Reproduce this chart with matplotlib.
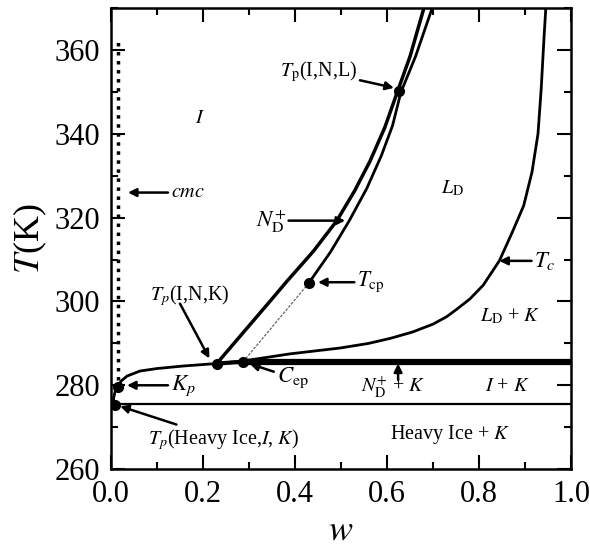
import numpy as np
import matplotlib
matplotlib.use('Agg')
import matplotlib.pyplot as plt

plt.rcParams['font.family'] = ['Liberation Serif', 'DejaVu Serif']
plt.rcParams['mathtext.fontset'] = 'stix'

# curves: w (mass fraction), T (K)
kp_w = [0.005, 0.006, 0.009, 0.015, 0.022, 0.035, 0.063, 0.10, 0.157, 0.23]
kp_T = [275.0, 277.0, 278.5, 279.5, 281.0, 282.2, 283.4, 284.0, 284.6, 285.2]

ni_w = [0.23, 0.346, 0.383, 0.440, 0.491, 0.530, 0.563, 0.595, 0.622, 0.650, 0.680]
ni_T = [285.2, 300.1, 304.9, 312.0, 319.3, 326.5, 333.5, 341.5, 349.9, 358.5, 370.0]

nl_dot_w = [0.287, 0.430]
nl_dot_T = [285.6, 304.4]
nl_w = [0.430, 0.477, 0.518, 0.556, 0.588, 0.612, 0.630, 0.662, 0.698]
nl_T = [304.4, 311.8, 319.3, 327.0, 334.9, 342.0, 349.9, 358.5, 370.0]

tc_w = [0.23, 0.287, 0.389, 0.498, 0.560, 0.607, 0.655, 0.70, 0.730, 0.752, 0.780,
        0.809, 0.844, 0.872, 0.897, 0.915, 0.928, 0.935, 0.941, 0.945]
tc_T = [285.2, 285.8, 287.5, 288.9, 290.0, 291.2, 292.7, 294.6, 296.4, 298.2, 300.6,
        303.9, 309.7, 316.5, 322.9, 330.9, 340.0, 350.8, 362.8, 370.0]

cmc_w = 0.015
cmc_T = [279.0, 362.0]
T_ice = 275.5
T_eut = 285.6
w_cep = 0.287

pts_w = [0.009, 0.015, 0.23, 0.287, 0.430, 0.626]
pts_T = [275.2, 279.5, 285.2, 285.6, 304.4, 350.2]

fig = plt.figure(figsize=(5.9, 5.48), dpi=100)
ax = fig.add_axes([0.188, 0.144, 0.780, 0.841])

ax.plot(kp_w, kp_T, 'k-', lw=2)
ax.plot(ni_w, ni_T, 'k-', lw=2.5)
ax.plot(nl_dot_w, nl_dot_T, color='0.45', lw=1, ls=(0, (2, 1)))
ax.plot(nl_w, nl_T, 'k-', lw=2)
ax.plot(tc_w, tc_T, 'k-', lw=2)
ax.plot([cmc_w, cmc_w], cmc_T, 'k', lw=2.5, ls=(0, (1, 1.6)))
ax.axhline(T_ice, color='k', lw=1.6)
ax.plot([0.23, w_cep], [285.2, T_eut], 'k-', lw=3)
ax.plot([w_cep, 1.0], [T_eut, T_eut], 'k-', lw=4.5, solid_capstyle='butt', clip_on=False)
ax.plot(pts_w, pts_T, 'ko', ms=7)

ax.set_xlim(0, 1)
ax.set_ylim(260, 370)
ax.set_xticks(np.arange(0, 1.01, 0.2))
ax.set_xticks(np.arange(0, 1.01, 0.1), minor=True)
ax.set_yticks(np.arange(260, 361, 20))
ax.set_yticks(np.arange(260, 371, 10), minor=True)
ax.xaxis.set_major_formatter(matplotlib.ticker.FormatStrFormatter('%.1f'))
ax.tick_params(which='both', direction='in', top=True, right=True, labelsize=22, width=1.5)
ax.tick_params(which='major', length=10, pad=8)
ax.tick_params(which='minor', length=5)
for s in ax.spines.values():
    s.set_linewidth(1.8)

ax.set_xlabel(r'$w$', fontsize=26, labelpad=4)
ax.set_ylabel(r'$T$(K)', fontsize=26, labelpad=4)

fs = 14.5
arrow = dict(arrowstyle='-|>', color='k', lw=1.8, mutation_scale=12, shrinkA=0, shrinkB=0)

ax.annotate(r'$cmc$', xy=(0.037, 326), xytext=(0.13, 326), fontsize=fs,
            va='center', ha='left', arrowprops=arrow)
ax.text(0.193, 343.7, r'$I$', fontsize=fs, ha='center', va='center')
ax.annotate(r'$T_{\rm p}$(I,N,L)', xy=(0.615, 351.0), xytext=(0.535, 355), fontsize=fs,
            va='center', ha='right', arrowprops=arrow)
ax.annotate(r'$N_{\rm D}^{+}$', xy=(0.509, 319.3), xytext=(0.38, 319.3), fontsize=fs + 2,
            va='center', ha='right', arrowprops=arrow)
ax.text(0.743, 327, r'$L_{\rm D}$', fontsize=fs, ha='center', va='center')
ax.annotate(r'$T_c$', xy=(0.844, 309.7), xytext=(0.92, 309.7), fontsize=fs + 2,
            va='center', ha='left', arrowprops=arrow)
ax.annotate(r'$T_{\rm cp}$', xy=(0.450, 304.6), xytext=(0.535, 304.6), fontsize=fs + 1,
            va='center', ha='left', arrowprops=arrow)
ax.text(0.867, 296.5, r'$L_{\rm D}$ + $K$', fontsize=fs, ha='center', va='center')
ax.text(0.613, 279.6, r'$N_{\rm D}^{+}$ + $K$', fontsize=fs, ha='center', va='center')
ax.annotate('', xy=(0.624, 285.2), xytext=(0.624, 281.3), arrowprops=arrow)
ax.text(0.861, 279.8, r'$I$ + $K$', fontsize=fs, ha='center', va='center')
ax.text(0.737, 268.3, r'Heavy Ice + $K$', fontsize=fs, ha='center', va='center')
ax.annotate(r'$T_p$(Heavy Ice,$I$, $K$)', xy=(0.02, 275.0), xytext=(0.08, 267.0),
            fontsize=fs, va='center', ha='left', arrowprops=arrow)
ax.annotate(r'$K_p$', xy=(0.035, 280.0), xytext=(0.13, 280.0), fontsize=fs + 2,
            va='center', ha='left', arrowprops=arrow)
ax.annotate(r'$C_{\rm ep}$', xy=(0.302, 285.1), xytext=(0.36, 281.8), fontsize=fs + 2,
            va='center', ha='left', arrowprops=arrow)
ax.annotate('', xy=(0.214, 286.4), xytext=(0.15, 299.5), arrowprops=arrow)
ax.text(0.085, 301.5, r'$T_p$(I,N,K)', fontsize=fs, ha='left', va='center')

fig.savefig('out.png', dpi=100)
